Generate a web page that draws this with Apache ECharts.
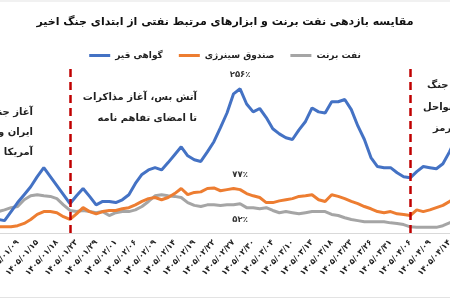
<!DOCTYPE html>
<html>
<head>
<meta charset="utf-8">
<title>مقایسه بازدهی</title>
<script src="https://cdn.jsdelivr.net/npm/echarts@6.0.0/dist/echarts.min.js"></script>
<style>
    html, body { margin: 0; padding: 0; background: #fff; }
    #chart { width: 450px; height: 300px; }
</style>
</head>
<body>
<div id="chart"></div>
<script type="text/javascript">
    // تاریخ‌ها (هر روز معاملاتی)
    var dates = [
        '۱۴۰۵/۰۱/۰۵', '۱۴۰۵/۰۱/۰۷', '۱۴۰۵/۰۱/۰۸', '۱۴۰۵/۰۱/۰۹', '۱۴۰۵/۰۱/۱۰', '۱۴۰۵/۰۱/۱۱',
        '۱۴۰۵/۰۱/۱۵', '۱۴۰۵/۰۱/۱۶', '۱۴۰۵/۰۱/۱۷', '۱۴۰۵/۰۱/۱۸', '۱۴۰۵/۰۱/۱۹', '۱۴۰۵/۰۱/۲۲',
        '۱۴۰۵/۰۱/۲۳', '۱۴۰۵/۰۱/۲۵', '۱۴۰۵/۰۱/۲۶', '۱۴۰۵/۰۱/۲۹', '۱۴۰۵/۰۱/۳۰', '۱۴۰۵/۰۱/۳۱',
        '۱۴۰۵/۰۲/۰۱', '۱۴۰۵/۰۲/۰۲', '۱۴۰۵/۰۲/۰۵', '۱۴۰۵/۰۲/۰۶', '۱۴۰۵/۰۲/۰۷', '۱۴۰۵/۰۲/۰۸',
        '۱۴۰۵/۰۲/۰۹', '۱۴۰۵/۰۲/۱۲', '۱۴۰۵/۰۲/۱۳', '۱۴۰۵/۰۲/۱۴', '۱۴۰۵/۰۲/۱۵', '۱۴۰۵/۰۲/۱۶',
        '۱۴۰۵/۰۲/۱۹', '۱۴۰۵/۰۲/۲۰', '۱۴۰۵/۰۲/۲۱', '۱۴۰۵/۰۲/۲۲', '۱۴۰۵/۰۲/۲۳', '۱۴۰۵/۰۲/۲۶',
        '۱۴۰۵/۰۲/۲۷', '۱۴۰۵/۰۲/۲۸', '۱۴۰۵/۰۲/۲۹', '۱۴۰۵/۰۲/۳۰', '۱۴۰۵/۰۳/۰۲', '۱۴۰۵/۰۳/۰۳',
        '۱۴۰۵/۰۳/۰۴', '۱۴۰۵/۰۳/۰۵', '۱۴۰۵/۰۳/۰۶', '۱۴۰۵/۰۳/۱۰', '۱۴۰۵/۰۳/۱۱', '۱۴۰۵/۰۳/۱۲',
        '۱۴۰۵/۰۳/۱۳', '۱۴۰۵/۰۳/۱۶', '۱۴۰۵/۰۳/۱۷', '۱۴۰۵/۰۳/۱۸', '۱۴۰۵/۰۳/۱۹', '۱۴۰۵/۰۳/۲۰',
        '۱۴۰۵/۰۳/۲۳', '۱۴۰۵/۰۳/۲۴', '۱۴۰۵/۰۳/۲۵', '۱۴۰۵/۰۳/۲۶', '۱۴۰۵/۰۳/۲۷', '۱۴۰۵/۰۳/۳۰',
        '۱۴۰۵/۰۳/۳۱', '۱۴۰۵/۰۴/۰۱', '۱۴۰۵/۰۴/۰۳', '۱۴۰۵/۰۴/۰۶', '۱۴۰۵/۰۴/۰۷', '۱۴۰۵/۰۴/۰۸',
        '۱۴۰۵/۰۴/۰۹', '۱۴۰۵/۰۴/۱۰', '۱۴۰۵/۰۴/۱۳', '۱۴۰۵/۰۴/۱۴', '۱۴۰۵/۰۴/۱۵'
    ];

    // بازدهی (درصد)
    var bitumen = [24, 22, 38,
        54, 68, 82, 100, 116, 100, 84, 68, 52, 66, 79, 65, 50, 56, 56, 54, 59, 68,
        88, 104, 112, 116, 112, 125, 139, 153, 137, 130, 127, 144, 162, 187, 213, 247,
        256, 229, 215, 221, 205, 185, 176, 169, 166, 183, 198, 222, 215, 213, 233, 233,
        237, 219, 190, 166, 134, 118, 116, 116, 107, 100, 98, 109, 118, 116, 114, 123, 144, 169];
    var synergy = [11, 11, 11,
        13, 17, 24, 33, 38, 38, 36, 29, 24, 34, 45, 38, 34, 38, 40, 40, 43, 45,
        50, 56, 61, 63, 59, 63, 70, 79, 68, 72, 73, 79, 80, 75, 77, 79,
        77, 70, 66, 63, 54, 54, 57, 59, 61, 65, 66, 68, 59, 56, 68, 65,
        61, 56, 52, 47, 43, 38, 36, 38, 34, 33, 31, 41, 38, 41, 45, 49, 56, 61];
    var brent = [38, 41, 45,
        47, 59, 66, 68, 66, 65, 61, 50, 40, 38, 40, 38, 36, 38, 31, 36, 38, 38,
        41, 47, 56, 66, 68, 66, 65, 63, 54, 49, 47, 50, 50, 49, 50, 50,
        52, 45, 45, 43, 45, 40, 36, 38, 36, 34, 36, 38, 38, 38, 33, 31,
        27, 24, 22, 20, 20, 20, 20, 18, 17, 15, 11, 10, 10, 10, 10, 13, 18, 22];

    var names = ['گواهی قیر', 'صندوق سینرژی', 'نفت برنت'];
    var colors = ['#4472C4', '#ED7D31', '#A5A5A5'];
    // روز برچسب‌خورده و خطوط رویداد (اندیس روی محور)
    var peakIdx = 37;
    var eventIdx = [10.5, 63];

    var FONT = 'DejaVu Sans';

    function toFa(n) {
        return String(n).replace(/\d/g, function (d) { return '۰۱۲۳۴۵۶۷۸۹'[d]; }) + '٪';
    }
    // برچسب مقدار در روز اوج
    function peakMark(arr, pos, dist) {
        return {
            silent: true,
            symbol: 'circle',
            symbolSize: 1,
            itemStyle: { color: 'rgba(0,0,0,0)' },
            label: {
                show: true, position: pos, distance: dist,
                formatter: function (p) { return toFa(p.value); },
                fontFamily: FONT, fontSize: 8.5, fontWeight: 'bold', color: '#333'
            },
            data: [{ coord: [peakIdx, arr[peakIdx]], value: arr[peakIdx] }]
        };
    }

    var myChart = echarts.init(document.getElementById('chart'));

    function lineSeries(name, color, data, extra) {
        var s = {
            name: name,
            type: 'line',
            data: data,
            symbol: 'none',
            lineStyle: { color: color, width: 3 },
            itemStyle: { color: color },
            z: 2
        };
        for (var k in extra) s[k] = extra[k];
        return s;
    }

    function noteText(text, x, y, align) {
        return {
            type: 'text', x: x, y: y, silent: true, z: 10,
            style: {
                text: text, align: align, verticalAlign: 'middle',
                fontFamily: FONT, fontSize: 10, fontWeight: 'bold', fill: '#222'
            }
        };
    }

    myChart.setOption({
        animation: false,
        backgroundColor: '#fff',
        title: {
            text: 'مقایسه بازدهی نفت برنت و ابزارهای مرتبط نفتی از ابتدای جنگ اخیر',
            left: 'center',
            top: 12,
            textStyle: { fontFamily: FONT, fontSize: 11, fontWeight: 'bold', color: '#111' }
        },
        legend: {
            data: names,
            top: 46,
            left: 'center',
            icon: 'rect',
            itemWidth: 21,
            itemHeight: 3,
            itemGap: 16,
            textStyle: { fontFamily: FONT, fontSize: 9, fontWeight: 'bold', color: '#222' }
        },
        grid: { left: -2, right: -6, top: 64, bottom: 67, outerBoundsMode: 'none', containLabel: false },
        xAxis: {
            type: 'category',
            data: dates,
            boundaryGap: false,
            axisLine: { lineStyle: { color: '#D9D9D9', width: 1 } },
            axisTick: { show: false },
            axisLabel: {
                interval: 2, rotate: 48, margin: 8,
                fontFamily: FONT, fontSize: 8, fontWeight: 'bold', color: '#222'
            }
        },
        yAxis: {
            type: 'value', min: 0, max: 300, show: false,
            splitLine: { show: false }
        },
        series: [
            lineSeries(names[2], colors[2], brent, { markPoint: peakMark(brent, 'bottom', 11) }),
            lineSeries(names[1], colors[1], synergy, { markPoint: peakMark(synergy, 'top', 10) }),
            lineSeries(names[0], colors[0], bitumen, {
                markPoint: peakMark(bitumen, 'top', 9),
                markLine: {
                    silent: true,
                    symbol: 'none',
                    label: { show: false },
                    lineStyle: { color: '#C00000', width: 2.5, type: [8, 5] },
                    data: eventIdx.map(function (v) { return { xAxis: v }; })
                }
            })
        ],
        graphic: [
            { type: 'line', silent: true, shape: { x1: 0, y1: 1, x2: 450, y2: 1 }, style: { stroke: '#E3E3E3', lineWidth: 1 } },
            { type: 'line', silent: true, shape: { x1: 0, y1: 297.5, x2: 450, y2: 297.5 }, style: { stroke: '#E3E3E3', lineWidth: 1 } },
            noteText('آغاز جنگ', 33, 112, 'right'),
            noteText('ایران و', 33, 132, 'right'),
            noteText('آمریکا', 33, 152, 'right'),
            noteText('آتش بس، آغاز مذاکرات', 197, 97, 'right'),
            noteText('تا امضای تفاهم نامه', 197, 118, 'right'),
            noteText('آغاز جنگ', 427, 85, 'left'),
            noteText('در سواحل', 423, 107, 'left'),
            noteText('هرمز', 433, 128, 'left')
        ]
    });
</script>
</body>
</html>
